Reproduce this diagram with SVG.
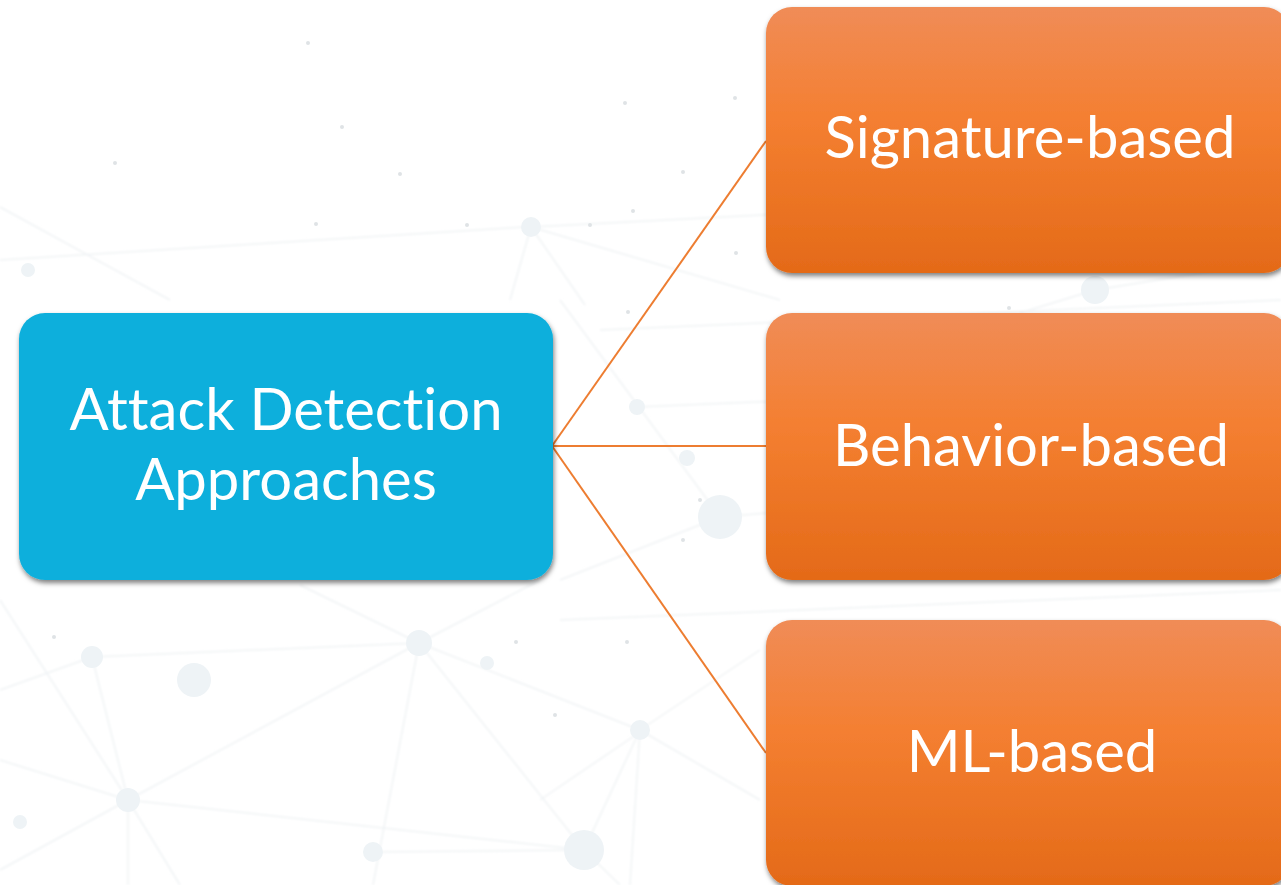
<svg xmlns="http://www.w3.org/2000/svg" width="1281" height="885" viewBox="0 0 1281 885">
  <defs>
    <linearGradient id="orangeFill" x1="0" y1="0" x2="0" y2="1">
      <stop offset="0" stop-color="#f08c57"/>
      <stop offset="0.42" stop-color="#f47f31"/>
      <stop offset="1" stop-color="#e46a18"/>
    </linearGradient>
    <filter id="boxShadow" x="-5%" y="-5%" width="110%" height="115%">
      <feDropShadow dx="1" dy="3" stdDeviation="2.5" flood-color="#000000" flood-opacity="0.5"/>
    </filter>
    <filter id="soft" x="-10%" y="-10%" width="120%" height="120%">
      <feGaussianBlur stdDeviation="0.8"/>
    </filter>
  </defs>
  <style>
    .net line { stroke: #f0f3f5; stroke-width: 1.5; fill: none; }
    .hub { fill: #eef3f6; }
    .speck { fill: #dfe3e6; }
    .box-blue { fill: #0aafdc; filter: url(#boxShadow); }
    .box-orange { fill: url(#orangeFill); filter: url(#boxShadow); }
    .label { font-family: Lato, "Liberation Sans", sans-serif; font-size: 58px; fill: #ffffff; text-anchor: middle; font-variant-ligatures: none; }
    .edge { stroke: #ed7d31; stroke-width: 2; fill: none; }
  </style>

  <!-- page background with a faint network texture -->
  <rect x="0" y="0" width="1281" height="885" fill="#ffffff"/>
  <g id="background" class="net" filter="url(#soft)">
    <line x1="0" y1="207" x2="170" y2="300"/>
    <line x1="531" y1="227" x2="780" y2="214"/>
    <line x1="531" y1="227" x2="780" y2="300"/>
    <line x1="531" y1="227" x2="510" y2="300"/>
    <line x1="531" y1="227" x2="585" y2="305"/>
    <line x1="540" y1="226" x2="0" y2="260"/>
    <line x1="560" y1="300" x2="720" y2="517"/>
    <line x1="600" y1="330" x2="1281" y2="300"/>
    <line x1="637" y1="407" x2="1281" y2="380"/>
    <line x1="560" y1="580" x2="720" y2="517"/>
    <line x1="720" y1="517" x2="1281" y2="470"/>
    <line x1="560" y1="620" x2="1281" y2="590"/>
    <line x1="419" y1="643" x2="128" y2="800"/>
    <line x1="419" y1="643" x2="584" y2="850"/>
    <line x1="419" y1="643" x2="373" y2="885"/>
    <line x1="419" y1="643" x2="640" y2="730"/>
    <line x1="419" y1="643" x2="92" y2="657"/>
    <line x1="419" y1="643" x2="540" y2="580"/>
    <line x1="419" y1="643" x2="300" y2="585"/>
    <line x1="92" y1="657" x2="128" y2="800"/>
    <line x1="92" y1="657" x2="0" y2="690"/>
    <line x1="128" y1="800" x2="584" y2="850"/>
    <line x1="128" y1="800" x2="0" y2="870"/>
    <line x1="128" y1="800" x2="128" y2="885"/>
    <line x1="128" y1="800" x2="180" y2="885"/>
    <line x1="0" y1="760" x2="128" y2="800"/>
    <line x1="0" y1="600" x2="128" y2="800"/>
    <line x1="640" y1="730" x2="584" y2="850"/>
    <line x1="640" y1="730" x2="760" y2="650"/>
    <line x1="640" y1="730" x2="760" y2="800"/>
    <line x1="640" y1="730" x2="630" y2="885"/>
    <line x1="584" y1="850" x2="620" y2="885"/>
    <line x1="373" y1="852" x2="584" y2="850"/>
    <line x1="640" y1="732" x2="540" y2="800"/>
    <line x1="1095" y1="290" x2="1281" y2="260"/>
    <line x1="1095" y1="290" x2="1020" y2="313"/>
  </g>
  <g id="background-dots">
    <circle class="hub" cx="531" cy="227" r="10"/>
    <circle class="hub" cx="720" cy="517" r="22"/>
    <circle class="hub" cx="637" cy="407" r="8"/>
    <circle class="hub" cx="687" cy="458" r="8"/>
    <circle class="hub" cx="419" cy="643" r="13"/>
    <circle class="hub" cx="194" cy="680" r="17"/>
    <circle class="hub" cx="92" cy="657" r="11"/>
    <circle class="hub" cx="128" cy="800" r="12"/>
    <circle class="hub" cx="584" cy="850" r="20"/>
    <circle class="hub" cx="373" cy="852" r="10"/>
    <circle class="hub" cx="640" cy="730" r="10"/>
    <circle class="hub" cx="487" cy="663" r="7"/>
    <circle class="hub" cx="1095" cy="290" r="14"/>
    <circle class="hub" cx="28" cy="270" r="7"/>
    <circle class="hub" cx="20" cy="822" r="7"/>
    <circle class="speck" cx="308" cy="43" r="2"/>
    <circle class="speck" cx="342" cy="127" r="2"/>
    <circle class="speck" cx="400" cy="174" r="2"/>
    <circle class="speck" cx="316" cy="224" r="2"/>
    <circle class="speck" cx="115" cy="163" r="2"/>
    <circle class="speck" cx="467" cy="225" r="2"/>
    <circle class="speck" cx="633" cy="211" r="2"/>
    <circle class="speck" cx="735" cy="98" r="2"/>
    <circle class="speck" cx="683" cy="172" r="2"/>
    <circle class="speck" cx="736" cy="253" r="2"/>
    <circle class="speck" cx="590" cy="225" r="2"/>
    <circle class="speck" cx="555" cy="715" r="2"/>
    <circle class="speck" cx="516" cy="642" r="2"/>
    <circle class="speck" cx="627" cy="642" r="2"/>
    <circle class="speck" cx="625" cy="103" r="2"/>
    <circle class="speck" cx="683" cy="540" r="2"/>
    <circle class="speck" cx="700" cy="500" r="2"/>
    <circle class="speck" cx="628" cy="312" r="2"/>
    <circle class="speck" cx="1009" cy="308" r="2"/>
    <circle class="speck" cx="54" cy="637" r="2"/>
  </g>

  <!-- connectors from the root to each approach -->
  <g id="connectors">
    <line class="edge" x1="552" y1="446" x2="766" y2="141"/>
    <line class="edge" x1="552" y1="446" x2="766" y2="446"/>
    <line class="edge" x1="552" y1="446" x2="766" y2="753"/>
  </g>

  <g id="node-root">
    <rect class="box-blue" x="19" y="313" width="534" height="267" rx="26" ry="26"/>
    <text class="label" x="286" y="430">Attack Detection</text>
    <text class="label" x="286" y="500">Approaches</text>
  </g>

  <g id="node-signature">
    <rect class="box-orange" x="766" y="7" width="524" height="266" rx="26" ry="26"/>
    <text class="label" x="1030" y="158">Signature-based</text>
  </g>

  <g id="node-behavior">
    <rect class="box-orange" x="766" y="313" width="524" height="267" rx="26" ry="26"/>
    <text class="label" x="1031" y="466">Behavior-based</text>
  </g>

  <g id="node-ml">
    <rect class="box-orange" x="766" y="620" width="524" height="266" rx="26" ry="26"/>
    <text class="label" x="1032" y="772">ML-based</text>
  </g>
</svg>
